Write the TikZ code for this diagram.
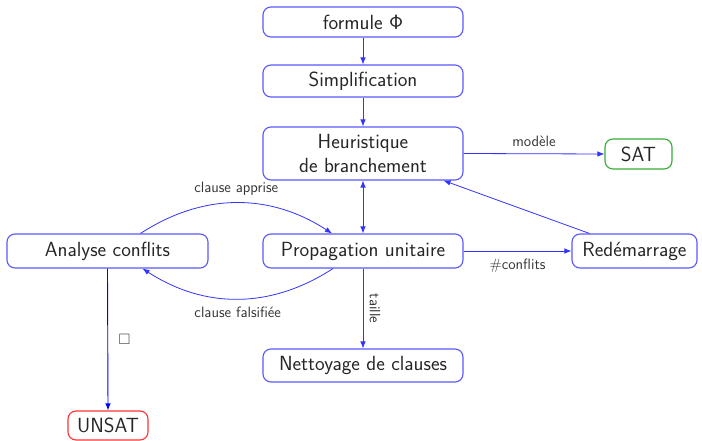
\documentclass[tikz,border=0pt]{standalone}
\usepackage{amssymb}
\usetikzlibrary{arrows.meta}
\begin{document}
\begin{tikzpicture}[x=1pt,y=-1pt,
  font=\sffamily\fontsize{20.5}{24}\selectfont,
  box/.style={draw=blue!65, line width=1.1pt, rounded corners=8pt, text=black!85, align=center, inner sep=0pt},
  lab/.style={font=\sffamily\fontsize{15}{17}\selectfont, text=black!80},
  conn/.style={draw=blue!80, line width=0.8pt, -{Latex[length=7pt,width=5.5pt]}},
  connb/.style={draw=blue, line width=0.9pt, -{Latex[length=7pt,width=5.5pt]}}]
\useasboundingbox (0,0) rectangle (702,441);
\node[box, minimum width=200pt, minimum height=30pt] (f) at (363,22) {formule $\mathsf{\Phi}$};
\node[box, minimum width=200pt, minimum height=32pt] (s) at (363,81) {Simplification};
\node[box, minimum width=200pt, minimum height=53pt] (h) at (363,153.5) {Heuristique\\de branchement};
\node[box, draw=green!60!black!80, minimum width=67pt, minimum height=30pt] (sat) at (638.5,154) {SAT};
\node[box, minimum width=201pt, minimum height=34pt] (a) at (107.5,251) {Analyse conflits};
\node[box, minimum width=200pt, minimum height=34pt] (p) at (363,251) {Propagation unitaire};
\node[box, minimum width=125pt, minimum height=34pt] (r) at (634.5,251) {Redémarrage};
\node[box, minimum width=200pt, minimum height=33pt] (n) at (363,365.5) {Nettoyage de clauses};
\node[box, draw=red!80, minimum width=80pt, minimum height=29pt] (u) at (108,425.5) {UNSAT};

\draw[conn] (f) -- (s);
\draw[conn] (s) -- (h);
\draw[conn, {Latex[length=7pt,width=5.5pt]}-{Latex[length=7pt,width=5.5pt]}] (h) -- (p);
\draw[conn] (h.east) -- node[lab, above=3pt] (lm) {modèle} (sat.west);
\draw[conn] (p.east) -- node[lab, below=4pt] (lc) {\#conflits} (r.west);
\draw[conn] ([xshift=18pt]r.north west) -- ([xshift=-20pt]h.south east);
\draw[conn] ([xshift=33pt]a.north) to[bend left=33] node[lab, above=4pt] (lca) {clause apprise} ([xshift=-31pt]p.north);
\draw[conn] ([xshift=-30pt]p.south) to[bend left=33] node[lab, below=4pt] (lcf) {clause falsifiée} ([xshift=35pt]a.south);
\draw[conn] (p) -- node[lab, rotate=-90, anchor=south, yshift=3pt] (lt) {taille} (n);
\draw[connb] (a.south) -- node[lab, right=7pt] (lb) {$\Box$} (u.north);
\end{tikzpicture}
\end{document}
